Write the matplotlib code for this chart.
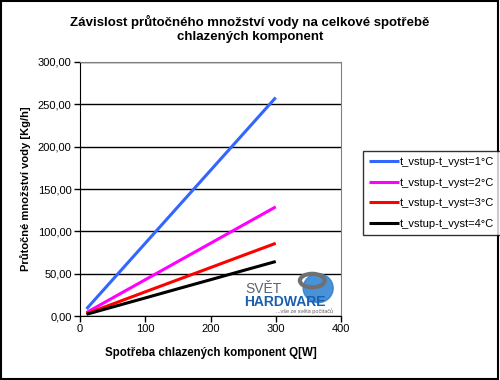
import numpy as np
import matplotlib.pyplot as plt
from matplotlib.patches import Rectangle, Ellipse

plt.rcParams['font.family'] = ['Liberation Sans', 'DejaVu Sans']

# spotreba komponent Q [W]
q = [10, 50, 100, 150, 200, 250, 300]

# prutok vody [kg/h] pro jednotlive rozdily teplot
flow_1 = [8.6, 43.0, 86.0, 129.0, 172.0, 215.0, 258.0]
flow_2 = [4.3, 21.5, 43.0, 64.5, 86.0, 107.5, 129.0]
flow_3 = [2.9, 14.3, 28.7, 43.0, 57.3, 71.7, 86.0]
flow_4 = [2.2, 10.8, 21.5, 32.3, 43.0, 53.8, 64.5]

labels = ['t_vstup-t_vyst=1°C', 't_vstup-t_vyst=2°C',
          't_vstup-t_vyst=3°C', 't_vstup-t_vyst=4°C']
colors = ['#3366ff', '#ff00ff', '#ff0000', '#000000']

fig = plt.figure(figsize=(5, 3.8), dpi=100)
ax = fig.add_axes([0.16, 0.168, 0.522, 0.669])

ax.set_axisbelow(True)

# watermark (behind the lines)
ax.add_patch(Ellipse((365, 33), 46, 34, color='#2a7fd0', alpha=0.85, zorder=1.5))
ax.add_patch(Ellipse((356, 42), 38, 16, fill=False, edgecolor='#707070', lw=3, zorder=1.6))
ax.text(253, 27, 'SVĚT', fontsize=10, color='#5a6472', zorder=1.7)
ax.text(252, 12, 'HARDWARE', fontsize=10, fontweight='bold', color='#1a5fb0', zorder=1.7)
ax.text(388, 3.5, '...vše ze světa počítačů', fontsize=4, color='#606060',
        ha='right', zorder=1.7)

for y, c, lab in zip([flow_1, flow_2, flow_3, flow_4], colors, labels):
    ax.plot(q, y, color=c, lw=2.2, label=lab, solid_capstyle='butt', zorder=3)

ax.set_xlim(0, 400)
ax.set_ylim(0, 300)
ax.set_xticks(np.arange(0, 401, 100))
ax.set_yticks(np.arange(0, 301, 50))
ax.set_yticklabels([('%.2f' % v).replace('.', ',') for v in np.arange(0, 301, 50)])
ax.yaxis.grid(True, color='black', lw=1)
ax.tick_params(labelsize=8, direction='out', length=4, width=1, pad=2)

for side in ['top', 'right']:
    ax.spines[side].set_color('#808080')
for side in ['left', 'bottom']:
    ax.spines[side].set_color('black')

ax.set_xlabel('Spotřeba chlazených komponent Q[W]', fontsize=8.3,
              fontweight='bold', labelpad=9)
ax.set_ylabel('Průtočné množství vody [Kg/h]', fontsize=8,
              fontweight='bold', labelpad=5)
fig.text(0.5, 0.96, 'Závislost průtočného množství vody na celkové spotřebě\nchlazených komponent',
         ha='center', va='top', fontsize=9.5, fontweight='bold', linespacing=1.25)

leg = fig.legend(loc='upper left', bbox_to_anchor=(0.726, 0.603), fontsize=8,
                 frameon=True, fancybox=False, edgecolor='black',
                 handlelength=2.7, handletextpad=0.1, borderpad=0.55,
                 labelspacing=0.95, borderaxespad=0)
leg.get_frame().set_linewidth(1)

# outer frame
fig.patches.append(Rectangle((0.002, 0.003), 0.994, 0.994, transform=fig.transFigure,
                             fill=False, edgecolor='black', lw=1.5))

fig.savefig('out.png', dpi=100)
